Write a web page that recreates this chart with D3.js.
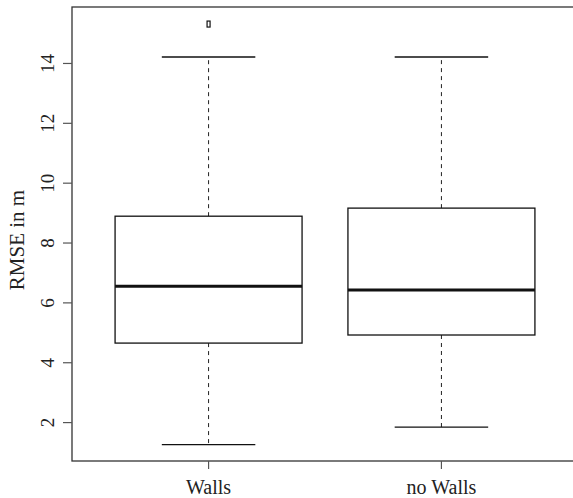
<!DOCTYPE html>
<html>
<head>
<meta charset="utf-8">
<script src="https://cdn.jsdelivr.net/npm/d3@7"></script>
<style>
  body { margin: 0; background: #fff; }
  text { font-family: "Liberation Serif", "DejaVu Serif", serif; fill: #222; }
</style>
</head>
<body>
<div id="chart"></div>
<script>
// groups and their five-number summaries
var groups = ['Walls', 'no Walls'];
var lowerWhisker = [1.25, 1.83];
var lowerQuartile = [4.64, 4.91];
var medians = [6.54, 6.41];
var upperQuartile = [8.88, 9.15];
var upperWhisker = [14.2, 14.2];
var outliers = [[15.3], []];
var yTicks = [2, 4, 6, 8, 10, 12, 14];

var width = 573,
    height = 498,
    margin = {top: 7, right: -5, bottom: 37, left: 72};

var svg = d3.select('#chart')
  .append('svg')
  .attr('width', width)
  .attr('height', height);

var x = d3.scaleBand()
  .domain(groups)
  .range([margin.left, width - margin.right])
  .paddingInner(0.197)
  .paddingOuter(0.185);

var y = d3.scaleLinear()
  .domain([0.7, 15.87])
  .range([height - margin.bottom, margin.top]);

// frame
svg.append('rect')
  .attr('x', margin.left)
  .attr('y', margin.top)
  .attr('width', width - margin.right - margin.left)
  .attr('height', height - margin.bottom - margin.top)
  .attr('fill', 'none')
  .attr('stroke', '#333')
  .attr('stroke-width', 1.3);

// y axis
var yAxis = svg.append('g')
  .attr('transform', 'translate(' + margin.left + ',0)')
  .call(d3.axisLeft(y).tickValues(yTicks).tickSize(9).tickFormat(d3.format('d')));
yAxis.select('.domain').remove();
yAxis.selectAll('line').attr('stroke', '#555').attr('stroke-width', 1.2);
yAxis.selectAll('text')
  .attr('x', 0).attr('y', 0).attr('dy', null)
  .attr('transform', 'translate(-18,0) rotate(-90)')
  .attr('text-anchor', 'middle')
  .style('font-size', '19px')
  .style('font-family', '"Liberation Serif", serif')
  .attr('fill', '#222');

// x axis
var xAxis = svg.append('g')
  .attr('transform', 'translate(0,' + (height - margin.bottom) + ')')
  .call(d3.axisBottom(x).tickSize(8).tickPadding(11));
xAxis.select('.domain').remove();
xAxis.selectAll('line').attr('stroke', '#555').attr('stroke-width', 1.2);
xAxis.selectAll('text')
  .attr('dy', '0.71em')
  .style('font-size', '20px')
  .style('font-family', '"Liberation Serif", serif')
  .attr('fill', '#222');

svg.append('text')
  .attr('transform', 'translate(24,240) rotate(-90)')
  .attr('text-anchor', 'middle')
  .style('font-size', '21px')
  .text('RMSE in m');

var boxes = svg.selectAll('g.box').data(groups)
  .enter().append('g')
  .attr('class', 'box');

var bw = x.bandwidth();

function cx(d) { return x(d) + bw / 2; }

// whiskers
boxes.append('line')
  .attr('x1', cx).attr('x2', cx)
  .attr('y1', function (d, i) { return y(upperQuartile[i]); })
  .attr('y2', function (d, i) { return y(upperWhisker[i]); })
  .attr('stroke', '#222').attr('stroke-dasharray', '4,4');
boxes.append('line')
  .attr('x1', cx).attr('x2', cx)
  .attr('y1', function (d, i) { return y(lowerQuartile[i]); })
  .attr('y2', function (d, i) { return y(lowerWhisker[i]); })
  .attr('stroke', '#222').attr('stroke-dasharray', '4,4');

// caps
[upperWhisker, lowerWhisker].forEach(function (arr) {
  boxes.append('line')
    .attr('x1', function (d) { return cx(d) - bw / 4; })
    .attr('x2', function (d) { return cx(d) + bw / 4; })
    .attr('y1', function (d, i) { return y(arr[i]); })
    .attr('y2', function (d, i) { return y(arr[i]); })
    .attr('stroke', '#111').attr('stroke-width', 1.3);
});

// box
boxes.append('rect')
  .attr('x', function (d) { return x(d); })
  .attr('width', bw)
  .attr('y', function (d, i) { return y(upperQuartile[i]); })
  .attr('height', function (d, i) { return y(lowerQuartile[i]) - y(upperQuartile[i]); })
  .attr('fill', '#fff')
  .attr('stroke', '#111')
  .attr('stroke-width', 1.3);

// median
boxes.append('line')
  .attr('x1', function (d) { return x(d); })
  .attr('x2', function (d) { return x(d) + bw; })
  .attr('y1', function (d, i) { return y(medians[i]); })
  .attr('y2', function (d, i) { return y(medians[i]); })
  .attr('stroke', '#111').attr('stroke-width', 3);

// outliers
boxes.each(function (d, i) {
  d3.select(this).selectAll('rect.out').data(outliers[i])
    .enter().append('rect')
    .attr('class', 'out')
    .attr('x', cx(d) - 1.5)
    .attr('y', function (v) { return y(v) - 3; })
    .attr('width', 3)
    .attr('height', 6)
    .attr('fill', 'none')
    .attr('stroke', '#111')
    .attr('stroke-width', 1.2);
});
</script>
</body>
</html>
